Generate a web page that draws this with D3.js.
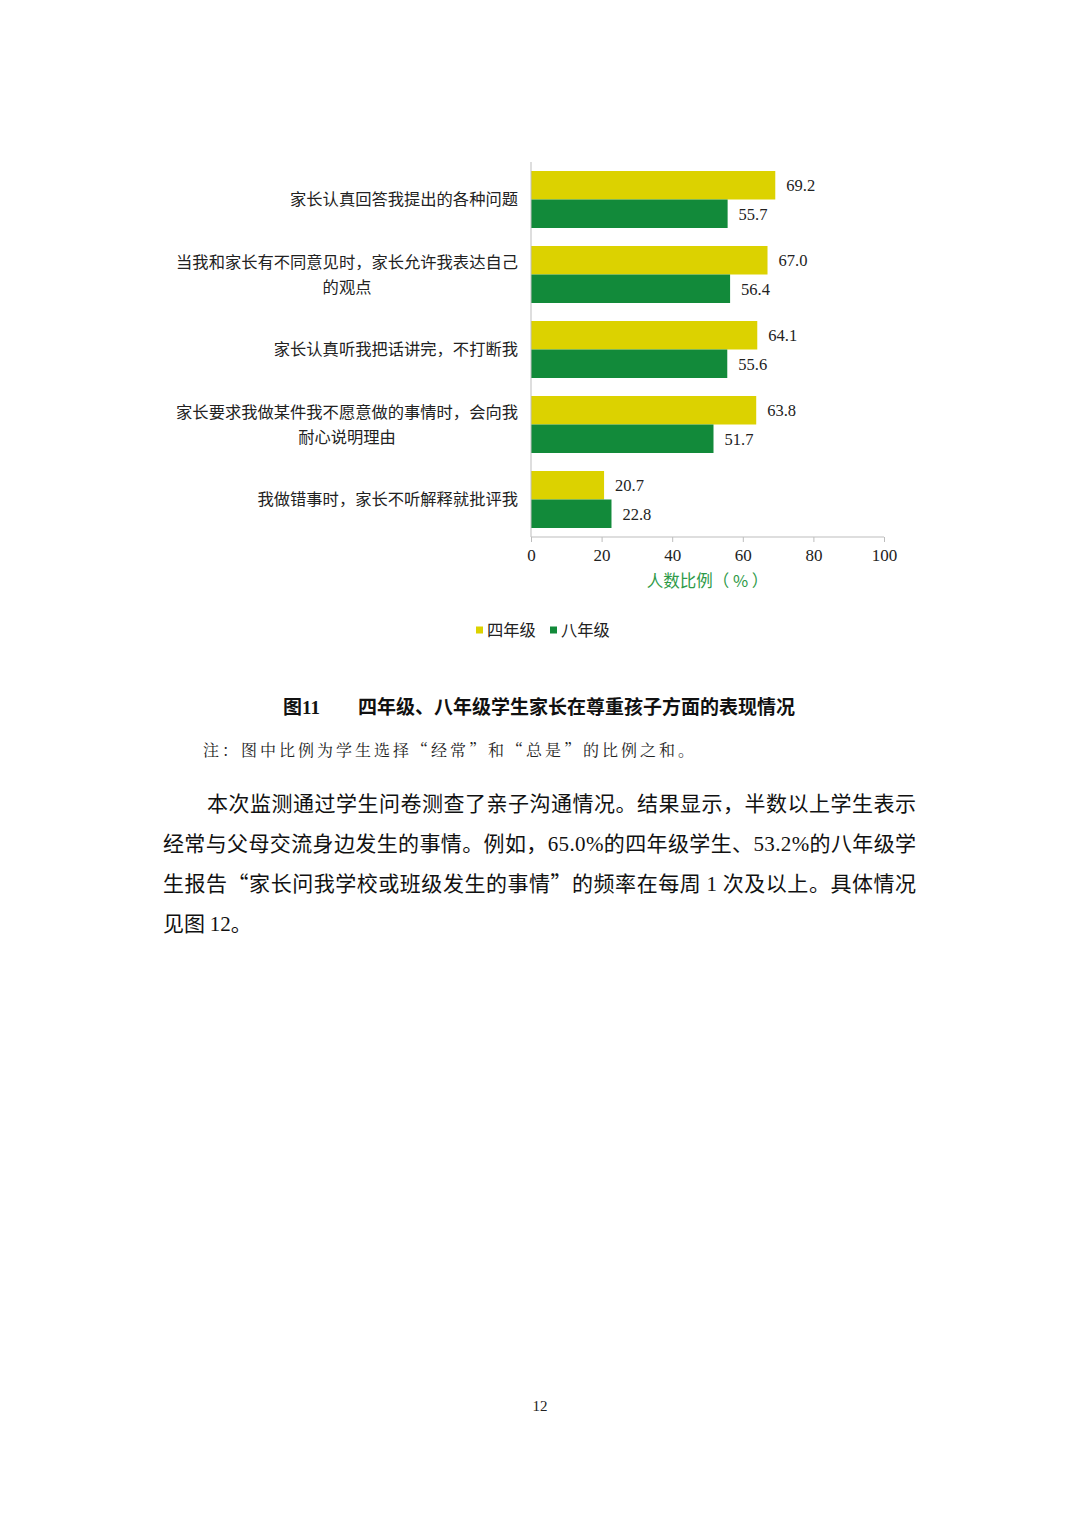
<!DOCTYPE html>
<html>
<head>
<meta charset="utf-8">
<script src="https://cdn.jsdelivr.net/npm/d3@7"></script>
<style>
  body { margin: 0; background: #fff; }
  svg { display: block; }
</style>
</head>
<body>
<div id="page"></div>
<script>
// chart data
var categories = [
  ['家长认真回答我提出的各种问题'],
  ['当我和家长有不同意见时，家长允许我表达自己', '的观点'],
  ['家长认真听我把话讲完，不打断我'],
  ['家长要求我做某件我不愿意做的事情时，会向我', '耐心说明理由'],
  ['我做错事时，家长不听解释就批评我']
];
var seriesNames = ['四年级', '八年级'];
var grade4 = [69.2, 67.0, 64.1, 63.8, 20.7];
var grade8 = [55.7, 56.4, 55.6, 51.7, 22.8];
var xTicks = [0, 20, 40, 60, 80, 100];
var colors = ['#dcd200', '#128a3a'];

var paragraph = [
  '本次监测通过学生问卷测查了亲子沟通情况。结果显示，半数以上学生表示',
  '经常与父母交流身边发生的事情。例如，65.0%的四年级学生、53.2%的八年级学',
  '生报告“家长问我学校或班级发生的事情”的频率在每周 1 次及以上。具体情况',
  '见图 12。'
];

var W = 1080, H = 1527;
var cjk = '"Noto Sans CJK SC", sans-serif';
var serif = '"Liberation Serif", serif';
var mixed = '"Liberation Serif", "Noto Sans CJK SC", serif';

var svg = d3.select('#page').append('svg')
  .attr('width', W)
  .attr('height', H);

var x = d3.scaleLinear().domain([0, 100]).range([531, 884]);
var y = d3.scaleBand().domain(d3.range(categories.length)).range([162, 537]).paddingInner(0.24).paddingOuter(0.12);
var sub = d3.scaleBand().domain([0, 1]).range([0, y.bandwidth()]);

// bars
var rows = categories.map(function(c, i) {
  return { i: i, vals: [grade4[i], grade8[i]] };
});
var g = svg.selectAll('g.row')
  .data(rows)
  .enter()
  .append('g')
  .attr('class', 'row')
  .attr('transform', function(d) { return 'translate(0,' + y(d.i) + ')'; });

g.selectAll('rect')
  .data(function(d) { return d.vals; })
  .enter()
  .append('rect')
  .attr('x', x(0))
  .attr('y', function(d, j) { return sub(j); })
  .attr('width', function(d) { return x(d) - x(0); })
  .attr('height', sub.bandwidth())
  .attr('fill', function(d, j) { return colors[j]; });

g.selectAll('text.val')
  .data(function(d) { return d.vals; })
  .enter()
  .append('text')
  .attr('class', 'val')
  .attr('x', function(d) { return x(d) + 11; })
  .attr('y', function(d, j) { return sub(j) + sub.bandwidth() / 2; })
  .attr('dy', '0.35em')
  .attr('font-family', serif)
  .attr('font-size', '16.5px')
  .attr('fill', '#222')
  .text(function(d) { return d.toFixed(1); });

// category labels, right-aligned blocks with centered lines
g.each(function(d) {
  var lines = categories[d.i];
  var t = d3.select(this).append('text')
    .attr('font-family', cjk)
    .attr('font-size', '16.3px')
    .attr('fill', '#222')
    .attr('text-anchor', 'middle');
  var n = lines.length;
  lines.forEach(function(l, k) {
    t.append('tspan')
      .attr('y', y.bandwidth() / 2 + (k - (n - 1) / 2) * 25)
      .attr('dy', '0.35em')
      .text(l);
  });
  var maxW = 0;
  t.selectAll('tspan').each(function() {
    maxW = Math.max(maxW, this.getComputedTextLength());
  });
  t.selectAll('tspan').attr('x', 518 - maxW / 2);
});

// axes
var xAxis = svg.append('g')
  .attr('transform', 'translate(0,537)')
  .call(d3.axisBottom(x).tickValues(xTicks).tickSize(5).tickPadding(7));
xAxis.select('.domain').attr('stroke', '#bdbdbd').attr('d', 'M531,0H884');
xAxis.selectAll('.tick line').attr('stroke', '#bdbdbd');
xAxis.selectAll('.tick text')
  .attr('font-family', serif)
  .attr('font-size', '17px')
  .attr('fill', '#222');

svg.append('line')
  .attr('x1', x(0)).attr('x2', x(0))
  .attr('y1', 162).attr('y2', 537)
  .attr('stroke', '#bdbdbd');

svg.append('text')
  .attr('x', (x(0) + x(100)) / 2)
  .attr('y', 587)
  .attr('text-anchor', 'middle')
  .attr('font-family', cjk)
  .attr('font-size', '16.5px')
  .attr('fill', '#2e9a48')
  .text('人数比例（ % ）');

// legend
var leg = svg.selectAll('g.leg')
  .data(seriesNames)
  .enter()
  .append('g')
  .attr('class', 'leg')
  .attr('transform', function(d, i) { return 'translate(' + (476 + i * 74) + ',630)'; });
leg.append('rect')
  .attr('y', -3.5)
  .attr('width', 7).attr('height', 7)
  .attr('fill', function(d, i) { return colors[i]; });
leg.append('text')
  .attr('x', 11)
  .attr('dy', '0.35em')
  .attr('font-family', cjk)
  .attr('font-size', '16.3px')
  .attr('fill', '#222')
  .text(function(d) { return d; });

// caption
var cap = svg.append('text')
  .attr('y', 714)
  .attr('font-size', '19px')
  .attr('font-weight', 'bold')
  .attr('fill', '#111');
cap.append('tspan').attr('x', 283).attr('font-family', cjk).text('图');
cap.append('tspan').attr('font-family', serif).text('11');
cap.append('tspan').attr('x', 358).attr('font-family', cjk).text('四年级、八年级学生家长在尊重孩子方面的表现情况');

svg.append('text')
  .attr('x', 203)
  .attr('y', 756)
  .attr('font-family', '"Noto Serif CJK SC", "Noto Sans CJK SC", serif')
  .attr('font-size', '16px')
  .attr('letter-spacing', '3px')
  .attr('fill', '#222')
  .text('注：图中比例为学生选择“经常”和“总是”的比例之和。');

// body paragraph: latin runs in serif, the rest in CJK font
function runs(s) {
  var out = [], re = /[0-9.%]+/g, last = 0, m;
  while ((m = re.exec(s)) !== null) {
    if (m.index > last) out.push({ t: s.slice(last, m.index), f: cjk });
    out.push({ t: m[0], f: serif });
    last = m.index + m[0].length;
  }
  if (last < s.length) out.push({ t: s.slice(last), f: cjk });
  return out;
}

svg.selectAll('text.para')
  .data(paragraph)
  .enter()
  .append('text')
  .attr('class', 'para')
  .attr('x', function(d, i) { return i === 0 ? 207 : 163; })
  .attr('y', function(d, i) { return 811 + i * 40; })
  .attr('font-size', '21px')
  .attr('fill', '#111')
  .each(function(d, i) {
    var t = d3.select(this);
    t.selectAll('tspan')
      .data(runs(d))
      .enter()
      .append('tspan')
      .attr('font-family', function(r) { return r.f; })
      .text(function(r) { return r.t; });
    if (i < paragraph.length - 1) {
      t.attr('textLength', 916 - (i === 0 ? 207 : 163))
        .attr('lengthAdjust', 'spacing');
    }
  });

svg.append('text')
  .attr('x', 540)
  .attr('y', 1411)
  .attr('text-anchor', 'middle')
  .attr('font-family', serif)
  .attr('font-size', '15px')
  .attr('fill', '#222')
  .text('12');
</script>
</body>
</html>
